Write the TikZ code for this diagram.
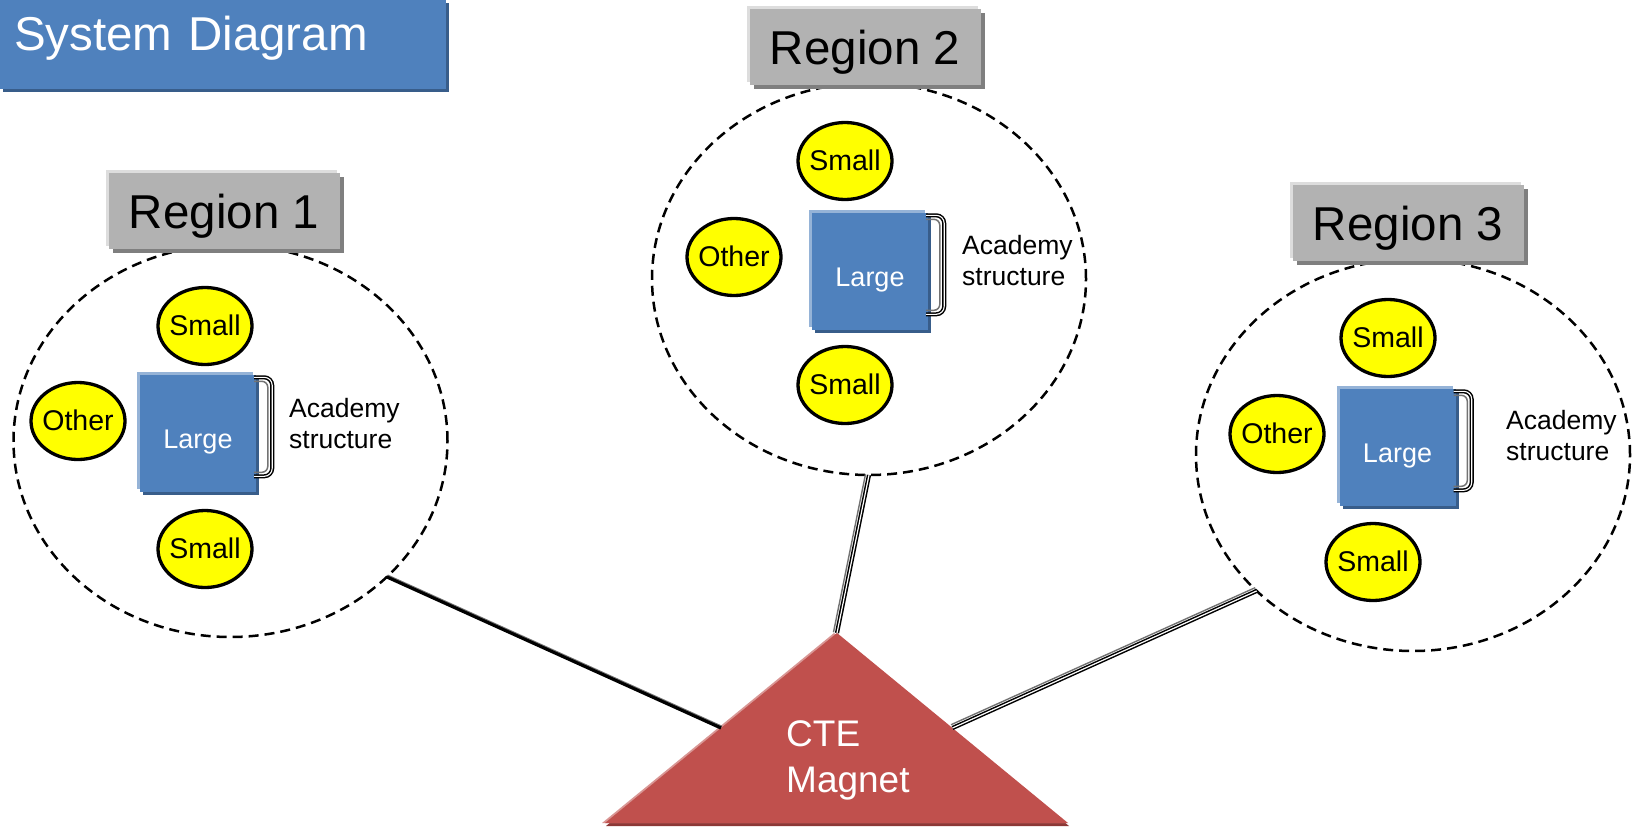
\documentclass[tikz,border=0pt]{standalone}
\usepackage{fontspec}
\setmainfont{Liberation Sans}
\usetikzlibrary{shapes.geometric,shadows,calc}
\definecolor{cblue}{HTML}{4F81BD}
\definecolor{cbluelt}{HTML}{95B3D7}
\definecolor{cbluedk}{HTML}{385D8A}
\definecolor{cgray}{HTML}{B2B2B2}
\definecolor{cgraylt}{HTML}{DDDDDD}
\definecolor{cgraydk}{HTML}{7F7F7F}
\definecolor{cred}{HTML}{C0504D}
\definecolor{credlt}{HTML}{D99694}
\definecolor{creddk}{HTML}{8C3836}
\definecolor{cyel}{HTML}{FFFF00}
\tikzset{
  regcircle/.style={ellipse, draw=black, line width=2.5pt, dash pattern=on 10pt off 6pt,
    minimum width=434pt, minimum height=392pt, inner sep=0pt, outer sep=0pt},
  regbox/.style={rectangle, fill=cgray, minimum width=231pt, minimum height=76pt, inner sep=0pt,
    font=\fontsize{47.5}{56}\selectfont, text height=35pt, text depth=0pt,
    general shadow={fill=cgraydk, shadow xshift=4pt, shadow yshift=-4pt},
    general shadow={fill=cgraylt, shadow xshift=-3pt, shadow yshift=3pt}},
  smallnode/.style={ellipse, draw=black, line width=3.3pt, fill=cyel, minimum width=94pt,
    minimum height=77pt, inner sep=0pt, font=\fontsize{28.5}{33}\selectfont,
    text height=20pt, text depth=2pt},
  largenode/.style={rectangle, fill=cblue, minimum width=116pt, minimum height=117pt, inner sep=0pt,
    text=white, font=\fontsize{27}{32}\selectfont, text height=30pt, text depth=0pt,
    general shadow={fill=cbluedk, shadow xshift=3pt, shadow yshift=-3pt},
    general shadow={fill=cbluelt, shadow xshift=-3pt, shadow yshift=3pt}},
  acadnode/.style={anchor=west, align=left, inner sep=0pt, font=\fontsize{26.5}{31}\selectfont},
  titlebox/.style={rectangle, fill=cblue, minimum width=446pt, minimum height=89pt,
    text width=418pt, align=left, inner xsep=14pt, inner ysep=0pt, text=white,
    font=\fontsize{47.5}{56}\selectfont, text height=33pt, text depth=21pt,
    general shadow={fill=cbluedk, shadow xshift=3pt, shadow yshift=-3pt}},
  magtext/.style={anchor=west, align=left, inner sep=0pt, text=white, font=\fontsize{37}{46}\selectfont},
  brkdouble/.style={draw=black, line width=1.5pt, double=white, double distance=1.1pt, rounded corners=8pt},
  brkshade/.style={draw=black!55, line width=1.5pt, rounded corners=6pt},
  connsingle/.style={draw=black, line width=3.2pt},
  conntriple/.style={draw=black, line width=1.5pt, double=white, double distance=1.2pt},
  connshade/.style={draw=black!55, line width=1.4pt},
  trifill/.style={fill=cred,
    general shadow={fill=creddk, shadow xshift=1pt, shadow yshift=-3pt},
    general shadow={fill=credlt, shadow xshift=-3pt, shadow yshift=0pt}}
}
\begin{document}
\begin{tikzpicture}[x=1pt,y=-1pt]
\useasboundingbox (0,0) rectangle (1632,827);

% title
\node[titlebox] (title) at (223,44.5) {System Diagram};

% region circles
\node[regcircle] (r1) at (230.5,441) {};
\node[regcircle] (r2) at (869,279) {};
\node[regcircle] (r3) at (1413,455) {};

% magnet triangle
\coordinate (tA) at (837,633);
\coordinate (tL) at (605,823);
\coordinate (tR) at (1068,823);
\fill[trifill] (tA) -- (tR) -- (tL) -- cycle;
\node[magtext] (mag) at (786,760) {CTE\\Magnet};

% connectors
\coordinate (c1a) at (r1.-41.7);
\coordinate (c1b) at ($(tL)!0.5!(tA)$);
\coordinate (c2a) at (r2.south);
\coordinate (c2b) at (tA);
\coordinate (c3a) at (r3.221.6);
\coordinate (c3b) at ($(tA)!0.5!(tR)$);

\draw[connshade] ($(c1a)!1.9pt!90:(c1b)$) -- ($(c1b)!1.9pt!-90:(c1a)$);
\draw[connsingle] (c1a) -- (c1b);
\draw[connshade] ($(c2a)!3.6pt!-90:(c2b)$) -- ($(c2b)!3.6pt!90:(c2a)$);
\draw[conntriple] (c2a) -- (c2b);
\draw[connshade] ($(c3a)!3.6pt!-90:(c3b)$) -- ($(c3b)!3.6pt!90:(c3a)$);
\draw[conntriple] (c3a) -- (c3b);

% region boxes
\node[regbox] (R1) at (224,210.5) {Region 1};
\node[regbox] (R2) at (865,47) {Region 2};
\node[regbox] (R3) at (1408,223) {Region 3};

% region 1 content
\node[largenode] (L1) at (198,433.5) {Large};
\node[smallnode] (S1a) at (205,326) {\makebox[0pt]{Small}};
\node[smallnode] (S1b) at (205,549) {\makebox[0pt]{Small}};
\node[smallnode] (O1) at (78,421) {\makebox[0pt]{Other}};
\node[acadnode] (A1) at (289,423.5) {Academy\\structure};

% region 2 content
\node[largenode] (L2) at (870,271.5) {Large};
\node[smallnode] (S2a) at (845,161) {\makebox[0pt]{Small}};
\node[smallnode] (S2b) at (845,385) {\makebox[0pt]{Small}};
\node[smallnode] (O2) at (734,257) {\makebox[0pt]{Other}};
\node[acadnode] (A2) at (962,260.5) {Academy\\structure};

% region 3 content
\node[largenode] (L3) at (1397.5,447.5) {Large};
\node[smallnode] (S3a) at (1388,338) {\makebox[0pt]{Small}};
\node[smallnode] (S3b) at (1373,562) {\makebox[0pt]{Small}};
\node[smallnode] (O3) at (1277,434) {\makebox[0pt]{Other}};
\node[acadnode] (A3) at (1506,436) {Academy\\structure};

% brackets
\foreach \L in {L1,L2,L3}{
  \draw[brkshade] ($(\L.north east)+(-2,6.5)$) -- ++(13.6,0) -- ++(0,91) -- ++(-13.6,0);
  \draw[brkdouble] ($(\L.north east)+(-2,2.5)$) -- ++(18,0) -- ++(0,99) -- ++(-18,0);
}
\end{tikzpicture}
\end{document}
